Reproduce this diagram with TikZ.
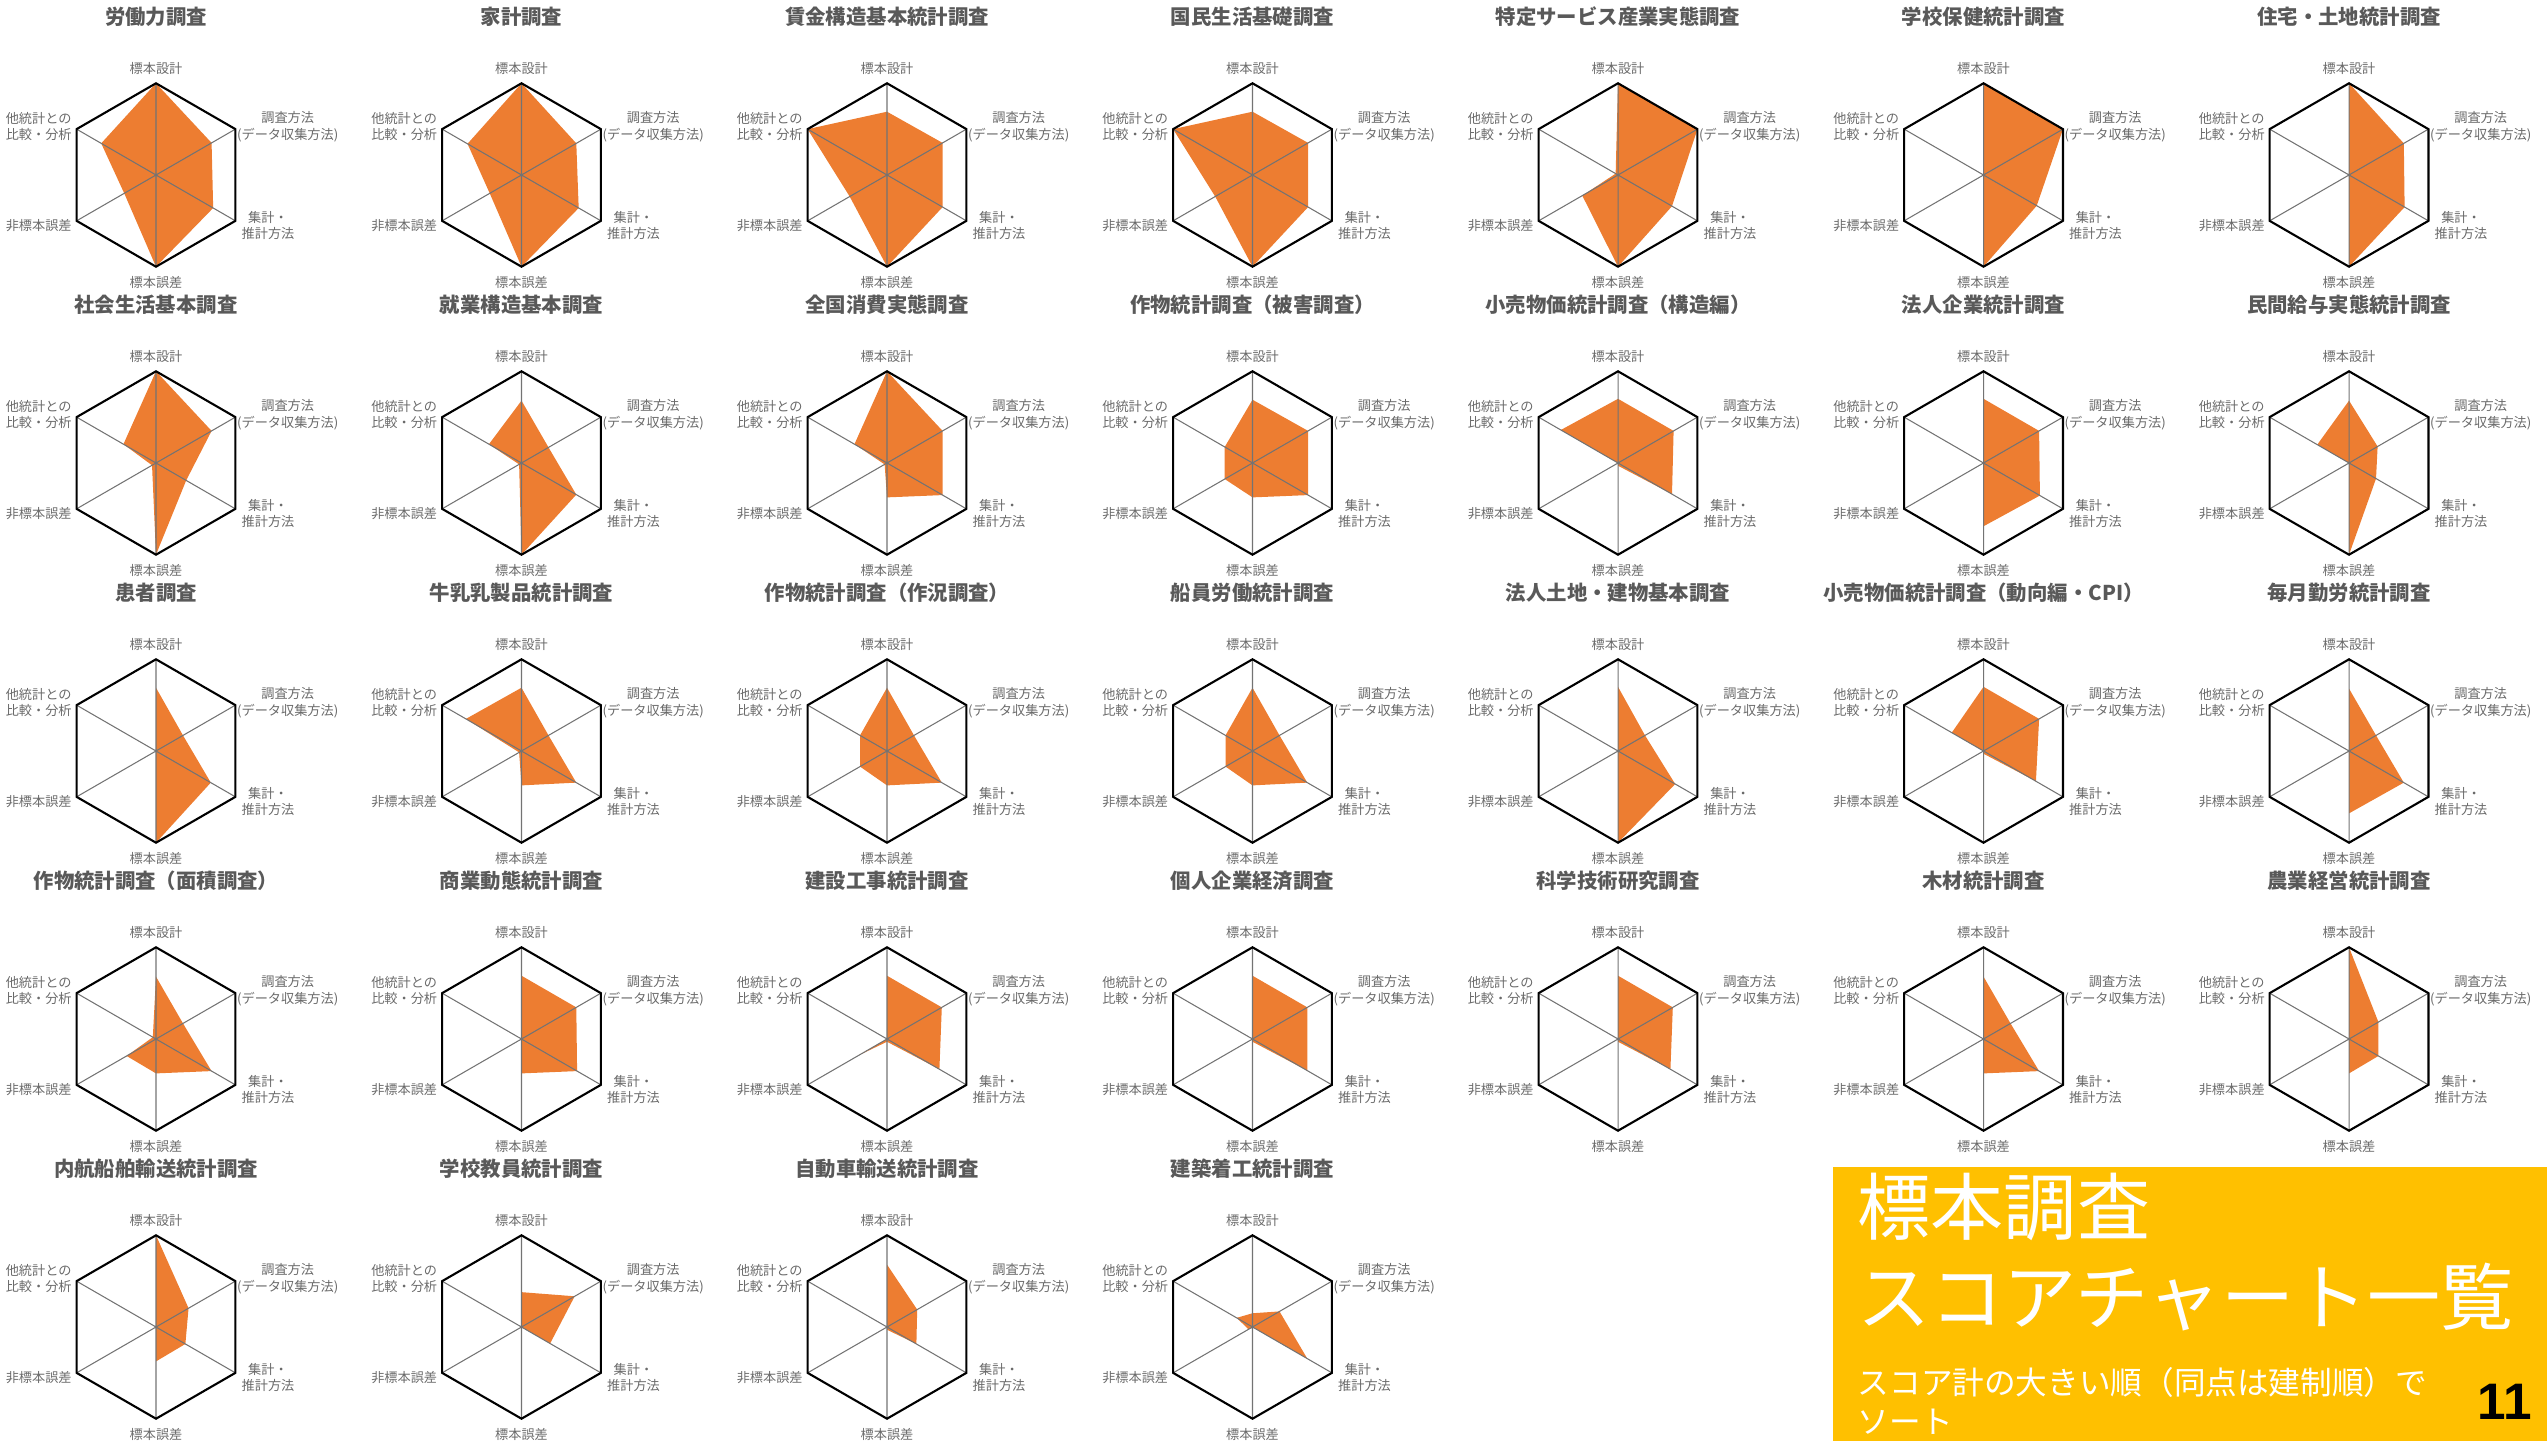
\documentclass[tikz,border=0pt]{standalone}
\usepackage{fontspec}
\setmainfont{Noto Sans CJK JP}
\newfontfamily\numfont{Liberation Sans}
\usepackage{tikz}
\usetikzlibrary{positioning,calc}
\definecolor{scoreorange}{HTML}{ED7D31}
\definecolor{titlegray}{HTML}{595959}
\definecolor{labelgray}{HTML}{6A6A6A}
\definecolor{boxyellow}{HTML}{FFC000}
\tikzset{
  hexframe/.style={draw=black, line width=0.6pt, line join=miter},
  spoke/.style={draw=black!55, line width=0.3pt},
  scorefill/.style={fill=scoreorange},
  charttitle/.style={font=\fontsize{5.8}{7}\selectfont\bfseries, text=titlegray, inner sep=0pt},
  axislabel/.style={font=\fontsize{3.75}{4.7}\selectfont, text=labelgray, align=center, inner sep=0pt},
  boxtext/.style={text=white, anchor=west, inner sep=0pt}
}
\begin{document}
\begin{tikzpicture}
    \useasboundingbox (0,0) rectangle (25.47,14.40);
    \def\R{0.917}

    % Score charts (top, method, estimation, sampling error, non-sampling error, comparison)
    \foreach \nm/\col/\row/\ttl/\va/\vb/\vc/\vd/\ve/\vf in {
        c1/0/0/労働力調査/1/.70/.72/1/.40/.69,
        c2/1/0/家計調査/1/.69/.72/1/.40/.68,
        c3/2/0/賃金構造基本統計調査/.69/.70/.70/1/.47/1,
        c4/3/0/国民生活基礎調査/.69/.70/.70/1/.47/1,
        c5/4/0/特定サービス産業実態調査/1/1/.68/1/.45/.03,
        c6/5/0/学校保健統計調査/1/1/.67/1/0/0,
        c7/6/0/住宅・土地統計調査/1/.69/.70/1/0/0,
        c8/0/1/社会生活基本調査/1/.70/.38/1/.05/.41,
        c9/1/1/就業構造基本調査/.68/.34/.69/1/.03/.41,
        c10/2/1/全国消費実態調査/1/.70/.70/.375/.03/.41,
        c11/3/1/作物統計調査（被害調査）/.69/.70/.70/.375/.35/.35,
        c12/4/1/小売物価統計調査（構造編）/.70/.70/.68/.03/0/.72,
        c13/5/1/法人企業統計調査/.70/.70/.71/.69/0/0,
        c14/6/1/民間給与実態統計調査/.68/.36/.34/1/0/.40,
        c15/0/2/患者調査/.69/.34/.69/1/0/0,
        c16/1/2/牛乳乳製品統計調査/.69/.34/.69/.375/.03/.70,
        c17/2/2/作物統計調査（作況調査）/.69/.34/.69/.375/.34/.34,
        c18/3/2/船員労働統計調査/.69/.34/.69/.375/.34/.34,
        c19/4/2/法人土地・建物基本調査/.70/.34/.72/1/0/0,
        c20/5/2/小売物価統計調査（動向編・CPI）/.70/.70/.66/.03/0/.40,
        c21/6/2/毎月勤労統計調査/.68/.34/.69/.68/0/0,
        c22/0/3/作物統計調査（面積調査）/.68/.34/.70/.375/.37/.04,
        c23/1/3/商業動態統計調査/.69/.69/.70/.375/0/0,
        c24/2/3/建設工事統計調査/.69/.69/.66/.03/.35/0,
        c25/3/3/個人企業経済調査/.69/.69/.69/.03/0/0,
        c26/4/3/科学技術研究調査/.69/.69/.66/.03/0/0,
        c27/5/3/木材統計調査/.68/.34/.70/.375/0/0,
        c28/6/3/農業経営統計調査/1/.37/.37/.375/0/0,
        c29/0/4/内航船舶輸送統計調査/1/.41/.37/.375/0/0,
        c30/1/4/学校教員統計調査/.38/.67/.36/0/0/0,
        c31/2/4/自動車輸送統計調査/.68/.38/.37/.03/0/0,
        c32/3/4/建築着工統計調査/.15/.34/.69/0/.05/.20}{
        \begin{scope}[shift={({1.56+3.655*\col},{12.65-2.88*\row})}]
            \fill[scorefill] (90:{\va*\R}) -- (30:{\vb*\R}) -- (-30:{\vc*\R}) -- (-90:{\vd*\R})
                -- (-150:{\ve*\R}) -- (150:{\vf*\R}) -- cycle;
            \draw[spoke] (90:\R) -- (-90:\R) (30:\R) -- (-150:\R) (150:\R) -- (-30:\R);
            \draw[hexframe] (90:\R) -- (30:\R) -- (-30:\R) -- (-90:\R) -- (-150:\R) -- (150:\R) -- cycle;
            \node[charttitle] (\nm-title) at (0,1.58) {\ttl};
            \node[axislabel] (\nm-design) at (0,1.067) {標本設計};
            \node[axislabel] (\nm-method) at (1.317,0.483) {調査方法\\(データ収集方法)};
            \node[axislabel] (\nm-estim) at (1.12,-0.507) {集計・\\推計方法};
            \node[axislabel] (\nm-serr) at (0,-1.077) {標本誤差};
            \node[axislabel] (\nm-nserr) at (-1.173,-0.51) {非標本誤差};
            \node[axislabel] (\nm-comp) at (-1.173,0.483) {他統計との\\比較・分析};
        \end{scope}
    }

    % Title box
    \node[fill=boxyellow, minimum width=7.15cm, minimum height=2.74cm, anchor=north west, inner sep=0pt] (titlebox) at (18.32,2.74) {};
    \node[boxtext, font=\fontsize{20.8}{22}\selectfont] (boxhead) at (18.57,2.333) {標本調査};
    \node[boxtext, font=\fontsize{20.8}{22}\selectfont] (boxsub) at (18.57,1.425) {スコアチャート一覧};
    \node[boxtext, font=\fontsize{9}{10}\selectfont] (boxnote) at (18.57,0.58) {スコア計の大きい順（同点は建制順）で};
    \node[boxtext, font=\fontsize{9}{10}\selectfont] (boxnote2) at (18.57,0.183) {ソート};
    \node[inner sep=0pt, font=\numfont\fontsize{14.6}{16}\selectfont\bfseries] (pagenum) at (25.05,0.385) {11};
\end{tikzpicture}
\end{document}
